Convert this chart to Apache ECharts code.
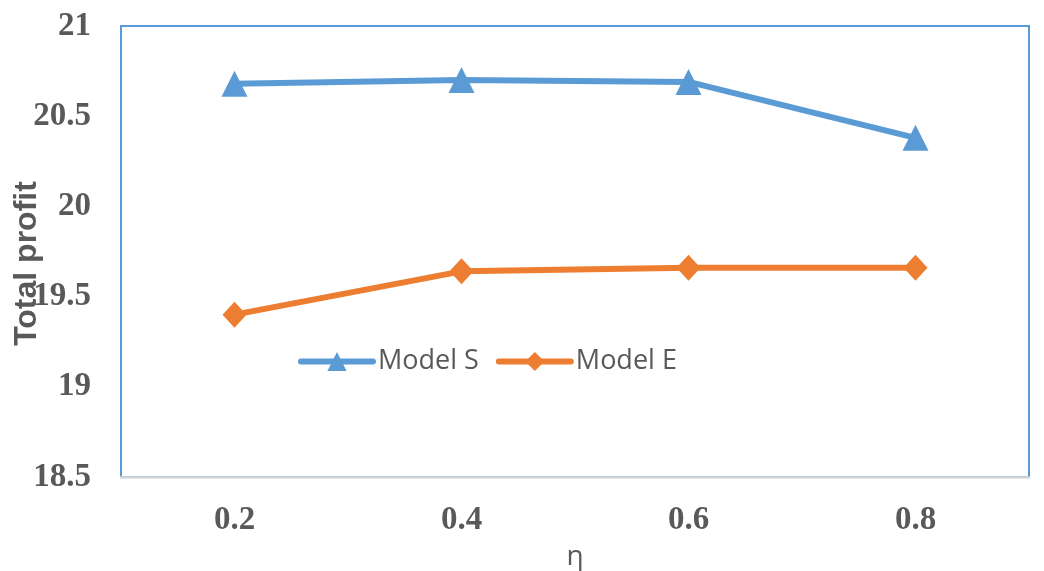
<!DOCTYPE html>
<html>
<head>
<meta charset="utf-8">
<script src="https://cdn.jsdelivr.net/npm/echarts@6/dist/echarts.min.js"></script>
<style>
html,body{margin:0;padding:0;background:#fff;}
#chart{width:1044px;height:571px;}
</style>
</head>
<body>
<div id="chart"></div>
<script>
const categories = ['0.2', '0.4', '0.6', '0.8'];
const modelS = [20.68, 20.70, 20.69, 20.38];
const modelE = [19.40, 19.64, 19.66, 19.66];
const yTicks = { min: 18.5, max: 21, interval: 0.5 };

const chart = echarts.init(document.getElementById('chart'));
chart.setOption({
  animation: false,
  backgroundColor: '#ffffff',
  grid: {
    left: 121, right: 15, top: 26, bottom: 94,
    containLabel: false, outerBoundsMode: 'none',
    show: true, borderColor: '#5B9BD5', borderWidth: 2, backgroundColor: 'transparent'
  },
  legend: {
    left: 293, top: 343,
    itemWidth: 72, itemHeight: 24, itemGap: 17,
    lineStyle: { width: 6, cap: 'round' },
    textStyle: { fontFamily: 'Open Sans', fontSize: 27, color: '#595959' },
    data: ['Model S', 'Model E']
  },
  xAxis: {
    type: 'category',
    data: categories,
    boundaryGap: true,
    name: 'η',
    nameLocation: 'middle',
    nameGap: 66,
    nameMoveOverlap: false,
    nameTextStyle: { fontFamily: 'Open Sans', fontSize: 28, color: '#595959' },
    axisLine: { show: true, lineStyle: { color: '#D9D9D9', width: 2.5 } },
    axisTick: { show: false },
    axisLabel: { margin: 27, fontFamily: 'Liberation Serif', fontWeight: 'bold', fontSize: 33, color: '#595959' },
    splitLine: { show: false }
  },
  yAxis: {
    type: 'value',
    min: yTicks.min, max: yTicks.max, interval: yTicks.interval,
    name: 'Total profit',
    nameLocation: 'middle',
    nameGap: 78,
    nameMoveOverlap: false,
    nameTextStyle: { fontFamily: 'Liberation Sans', fontWeight: 'bold', fontSize: 32, color: '#595959', padding: [0, 24, 0, 0] },
    axisLine: { show: true, lineStyle: { color: '#5B9BD5', width: 2 } },
    axisTick: { show: false },
    axisLabel: { margin: 30, fontFamily: 'Liberation Serif', fontWeight: 'bold', fontSize: 33, color: '#595959' },
    splitLine: { show: false }
  },
  series: [
    {
      name: 'Model S', type: 'line', data: modelS,
      symbol: 'triangle', symbolSize: [26, 26],
      lineStyle: { color: '#5B9BD5', width: 6 },
      itemStyle: { color: '#5B9BD5' }
    },
    {
      name: 'Model E', type: 'line', data: modelE,
      symbol: 'diamond', symbolSize: [24, 26],
      lineStyle: { color: '#ED7D31', width: 6 },
      itemStyle: { color: '#ED7D31' }
    }
  ]
});
</script>
</body>
</html>
